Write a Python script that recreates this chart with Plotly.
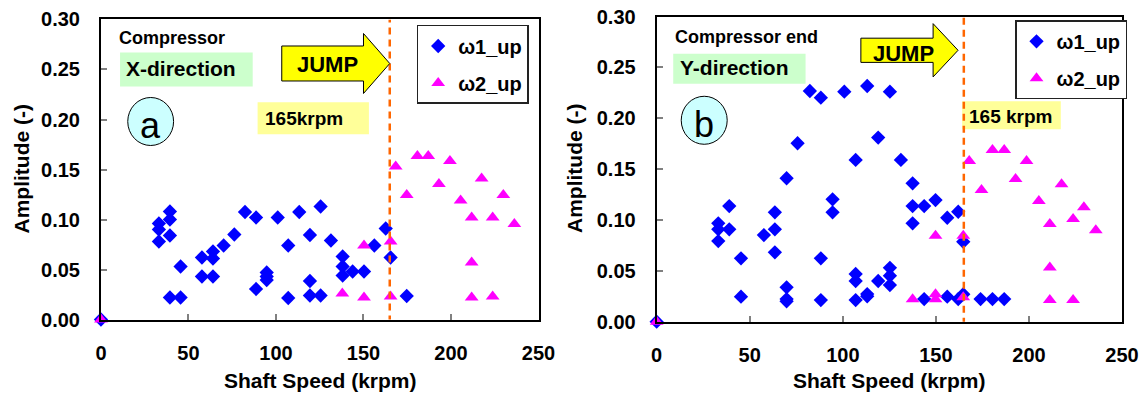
import plotly.graph_objects as go

# ---------------- data: (a) compressor, X-direction ----------------
a_w1_speed = [0, 33.1, 33.1, 33.1, 39.4, 39.4, 39.4, 39.4, 45.5, 45.5, 57.7, 57.7,
              64.0, 64.0, 64.0, 70.1, 76.2, 82.3, 88.6, 88.6, 94.7, 94.7, 94.7,
              101.0, 107.0, 107.0, 113.3, 119.4, 119.4, 119.4, 125.5, 125.5,
              131.4, 138.1, 138.1, 138.1, 143.8, 150.3, 156.2, 162.7, 165.5, 174.7]
a_w1_amp = [0, 0.096, 0.090, 0.078, 0.108, 0.100, 0.084, 0.022, 0.053, 0.022, 0.062, 0.043,
            0.068, 0.061, 0.043, 0.074, 0.085, 0.1075, 0.102, 0.0305, 0.047, 0.043, 0.0395,
            0.102, 0.074, 0.0215, 0.1075, 0.0845, 0.0385, 0.024, 0.113, 0.024,
            0.079, 0.063, 0.053, 0.044, 0.048, 0.048, 0.074, 0.091, 0.062, 0.0235]

a_w2_speed = [0, 137.9, 150.3, 150.3, 165.5, 165.5, 168.4, 174.7, 180.8, 187.0, 193.1,
              199.4, 205.5, 211.8, 211.8, 211.8, 217.5, 223.8, 223.8, 229.9, 236.2]
a_w2_amp = [0, 0.026, 0.074, 0.022, 0.078, 0.023, 0.153, 0.1245, 0.1635, 0.1635, 0.1355,
            0.1585, 0.119, 0.102, 0.057, 0.022, 0.141, 0.102, 0.023, 0.1245, 0.0955]

# ---------------- data: (b) compressor end, Y-direction ----------------
b_w1_speed = [0, 33.1, 33.1, 33.1, 39.0, 39.0, 45.3, 45.3, 57.6, 63.5, 63.5, 63.5,
              69.8, 69.8, 69.8, 69.8, 75.7, 82.3, 88.2, 88.2, 88.2, 94.5, 94.5, 100.8,
              106.9, 106.9, 106.9, 106.9, 113.1, 113.1, 113.1, 119.0, 119.0,
              125.3, 125.3, 125.3, 125.3, 131.2, 137.5, 137.5, 137.5, 143.7, 143.7,
              149.8, 156.1, 156.1, 162.0, 162.0, 164.7, 164.7, 174.0, 180.4, 186.7]
b_w1_amp = [0, 0.0967, 0.0908, 0.0793, 0.1137, 0.0908, 0.0623, 0.0246, 0.0852, 0.1075, 0.0908, 0.0682,
            0.141, 0.0338, 0.0223, 0.020, 0.1754, 0.2268, 0.2202, 0.0623, 0.0213, 0.1203, 0.1075, 0.2261,
            0.159, 0.0469, 0.040, 0.0213, 0.2317, 0.0272, 0.025, 0.181, 0.040,
            0.2261, 0.053, 0.0452, 0.036, 0.159, 0.136, 0.1137, 0.0967, 0.1137, 0.0223,
            0.1196, 0.1022, 0.0246, 0.1081, 0.0223, 0.0786, 0.027, 0.0223, 0.0223, 0.0223]

b_w2_speed = [0, 137.5, 149.8, 149.8, 149.8, 164.7, 164.7, 167.9, 174.5, 180.4, 186.7,
              192.8, 198.7, 205.3, 211.2, 211.2, 211.2, 217.5, 223.7, 223.7, 229.5, 235.9]
b_w2_amp = [0, 0.022, 0.0845, 0.027, 0.022, 0.0845, 0.024, 0.158, 0.1295, 0.1688, 0.1688,
            0.1403, 0.158, 0.1186, 0.096, 0.0534, 0.0213, 0.135, 0.101, 0.0213, 0.1124, 0.090]

jump_speed = 165
x_ticks = [0, 50, 100, 150, 200, 250]
y_ticks = [0.00, 0.05, 0.10, 0.15, 0.20, 0.25, 0.30]
x_title = "Shaft Speed (krpm)"
y_title = "Amplitude (-)"

FONT = "Liberation Sans, Arial, sans-serif"
BLUE = "#0000ff"
MAGENTA = "#ff00ff"

fig = go.Figure()

def add_series(xs, ys, name, symbol, color, xa, ya, legend, group):
    fig.add_trace(go.Scatter(
        x=xs, y=ys, name=name, mode="markers", xaxis=xa, yaxis=ya,
        legend=legend, legendgroup=group, cliponaxis=False,
        marker=dict(symbol=symbol, size=11 if symbol == "diamond" else 12,
                    color=color, line=dict(width=0)),
    ))

add_series(a_w1_speed, a_w1_amp, "ω1_up", "diamond", BLUE, "x", "y", "legend", "a1")
add_series(a_w2_speed, a_w2_amp, "ω2_up", "triangle-up", MAGENTA, "x", "y", "legend", "a2")
add_series(b_w1_speed, b_w1_amp, "ω1_up", "diamond", BLUE, "x2", "y2", "legend2", "b1")
add_series(b_w2_speed, b_w2_amp, "ω2_up", "triangle-up", MAGENTA, "x2", "y2", "legend2", "b2")

tick_font = dict(family=FONT, size=20, color="black", weight="bold")
title_font = dict(family=FONT, size=21, color="black", weight="bold")

def xaxis_cfg(domain, anchor):
    return dict(domain=domain, anchor=anchor, range=[0, 250], tickvals=x_ticks,
                showgrid=False, zeroline=False, showline=True, linecolor="black",
                linewidth=2, mirror=True, ticks="inside", ticklen=6, tickwidth=1.5,
                tickcolor="#808080", tickfont=tick_font, ticklabelstandoff=14,
                automargin=False)

def yaxis_cfg(domain, anchor):
    return dict(domain=domain, anchor=anchor, range=[0, 0.30], tickvals=y_ticks,
                tickformat=".2f", showgrid=False, zeroline=False, showline=True,
                linecolor="black", linewidth=2, mirror=True, ticks="inside", ticklen=6,
                tickwidth=1.5, tickcolor="#808080", tickfont=tick_font,
                ticklabelstandoff=15, automargin=False)

legend_cfg = dict(bgcolor="white", bordercolor="#222222", borderwidth=1.5,
                  font=dict(family=FONT, size=20, color="black", weight="bold"),
                  xanchor="left", yanchor="top", tracegroupgap=8)

W, H = 1146, 393
fig.update_layout(
    width=W, height=H,
    margin=dict(l=0, r=0, t=0, b=0, autoexpand=False),
    paper_bgcolor="white", plot_bgcolor="white",
    xaxis=xaxis_cfg([0.0881, 0.4699], "y"),
    yaxis=yaxis_cfg([0.187, 0.9504], "x"),
    xaxis2=xaxis_cfg([0.5730, 0.9791], "y2"),
    yaxis2=yaxis_cfg([0.1814, 0.958], "x2"),
    legend=dict(legend_cfg, x=0.3636, y=0.9364),
    legend2=dict(legend_cfg, x=0.8857, y=0.9483),
    showlegend=True,
)

# axis titles, placed in paper pixels
for cx, cy in [(320, 380), (889, 380)]:
    fig.add_annotation(xref="paper", yref="paper", x=cx / W, y=1 - cy / H, text=x_title,
                       showarrow=False, xanchor="center", yanchor="middle", font=title_font)
for cx, cy in [(21, 169.5), (574, 169)]:
    fig.add_annotation(xref="paper", yref="paper", x=cx / W, y=1 - cy / H, text=y_title,
                       textangle=-90, showarrow=False, xanchor="center", yanchor="middle",
                       font=title_font)

def decorate(xr, yr, title, direction, letter, box_x, box_y, circ, arrow, jump_label,
             krpm_text, krpm_box, title_pos, dir_pos, krpm_pos):
    # jump speed marker
    fig.add_shape(type="line", xref=xr, yref=yr, x0=jump_speed, x1=jump_speed,
                  y0=-0.003, y1=0.30, line=dict(color="#ff6600", width=2.5, dash="7px,5px"))
    # direction label box
    fig.add_shape(type="rect", xref=xr, yref=yr, x0=box_x[0], x1=box_x[1],
                  y0=box_y[0], y1=box_y[1], fillcolor="#ccffcc", line=dict(width=0),
                  layer="below")
    # jump speed label box
    fig.add_shape(type="rect", xref=xr, yref=yr, x0=krpm_box[0], x1=krpm_box[1],
                  y0=krpm_box[2], y1=krpm_box[3], fillcolor="#ffff99", line=dict(width=0),
                  layer="below")
    # panel letter circle
    fig.add_shape(type="circle", xref=xr, yref=yr, x0=circ[0], x1=circ[1],
                  y0=circ[2], y1=circ[3], fillcolor="#ccffff",
                  line=dict(color="black", width=1))
    # JUMP arrow
    bx0, bx1, tip, yc, hb, hh = arrow
    path = (f"M {bx0},{yc - hb} L {bx1},{yc - hb} L {bx1},{yc - hh} L {tip},{yc} "
            f"L {bx1},{yc + hh} L {bx1},{yc + hb} L {bx0},{yc + hb} Z")
    fig.add_shape(type="path", xref=xr, yref=yr, path=path, fillcolor="#ffff00",
                  line=dict(color="black", width=1))

    bold = lambda s: dict(family=FONT, size=s, color="black", weight="bold")
    fig.add_annotation(xref=xr, yref=yr, x=title_pos[0], y=title_pos[1], text=title,
                       showarrow=False, xanchor="left", yanchor="middle", font=bold(18))
    fig.add_annotation(xref=xr, yref=yr, x=dir_pos[0], y=dir_pos[1], text=direction,
                       showarrow=False, xanchor="left", yanchor="middle", font=bold(21))
    fig.add_annotation(xref=xr, yref=yr, x=krpm_pos[0], y=krpm_pos[1], text=krpm_text,
                       showarrow=False, xanchor="left", yanchor="middle", font=bold(19))
    fig.add_annotation(xref=xr, yref=yr, x=jump_label[0], y=jump_label[1], text="JUMP",
                       showarrow=False, xanchor="center", yanchor="middle", font=bold(22))
    fig.add_annotation(xref=xr, yref=yr, x=(circ[0] + circ[1]) / 2,
                       y=(circ[2] + circ[3]) / 2 - 0.004, text=letter, showarrow=False,
                       xanchor="center", yanchor="middle",
                       font=dict(family=FONT, size=36, color="black"))

decorate("x", "y", "Compressor", "X-direction", "a",
         box_x=(10.9, 86.7), box_y=(0.233, 0.267),
         circ=(15.3, 41.5, 0.174, 0.222),
         arrow=(103.3, 150.0, 165.0, 0.256, 0.0175, 0.030),
         jump_label=(129.5, 0.2545),
         krpm_text="165krpm", krpm_box=(89.5, 153.1, 0.1852, 0.2172),
         title_pos=(9.0, 0.281), dir_pos=(13.1, 0.251), krpm_pos=(92.4, 0.2015))

decorate("x2", "y2", "Compressor end", "Y-direction", "b",
         box_x=(8.9, 80.0), box_y=(0.234, 0.2634),
         circ=(13.2, 37.9, 0.1744, 0.2216),
         arrow=(109.7, 148.5, 161.9, 0.2668, 0.0119, 0.0262),
         jump_label=(132.4, 0.2634),
         krpm_text="165 krpm", krpm_box=(164.1, 217.1, 0.1891, 0.2167),
         title_pos=(8.9, 0.2799), dir_pos=(11.3, 0.2494), krpm_pos=(166.5, 0.2022))

fig.write_html("out.html")
